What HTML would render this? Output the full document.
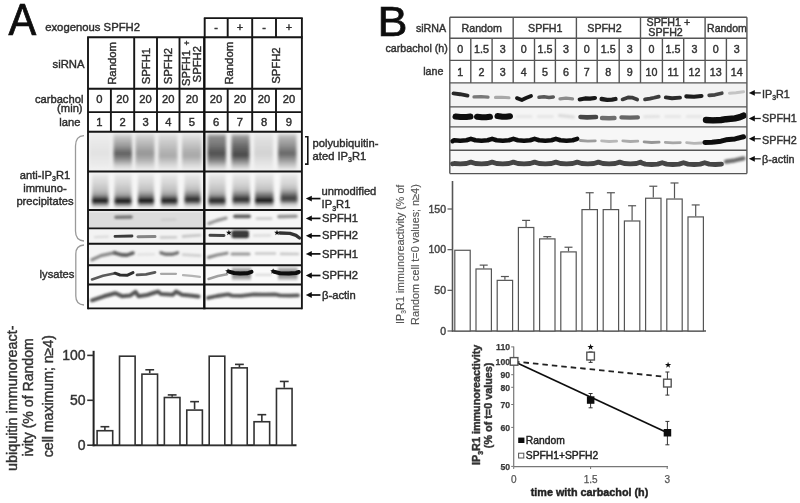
<!DOCTYPE html>
<html><head><meta charset="utf-8"><style>
html,body{margin:0;padding:0;background:#fff;}
svg{display:block;filter:grayscale(1);}
text{font-family:"Liberation Sans",sans-serif;}
</style></head><body>
<svg width="800" height="503" viewBox="0 0 800 503" font-family="Liberation Sans, sans-serif">
<defs>
<filter id="b1" filterUnits="userSpaceOnUse" x="0" y="0" width="800" height="503"><feGaussianBlur stdDeviation="1"/></filter>
<filter id="b2" filterUnits="userSpaceOnUse" x="0" y="0" width="800" height="503"><feGaussianBlur stdDeviation="2"/></filter>
<filter id="b3" filterUnits="userSpaceOnUse" x="0" y="0" width="800" height="503"><feGaussianBlur stdDeviation="3"/></filter>
<filter id="b15" filterUnits="userSpaceOnUse" x="0" y="0" width="800" height="503"><feGaussianBlur stdDeviation="1.5"/></filter>
<filter id="b07" filterUnits="userSpaceOnUse" x="0" y="0" width="800" height="503"><feGaussianBlur stdDeviation="0.7"/></filter>
<filter id="gall" filterUnits="userSpaceOnUse" x="0" y="0" width="800" height="503"><feGaussianBlur stdDeviation="0.6"/></filter>
</defs>
<rect width="800" height="503" fill="#fff"/>
<g filter="url(#gall)">
<clipPath id="cA00"><rect x="88" y="131.7" width="116.30000000000001" height="39.80000000000001"/></clipPath>
<clipPath id="cA01"><rect x="204.3" y="131.7" width="97.59999999999997" height="39.80000000000001"/></clipPath>
<clipPath id="cA10"><rect x="88" y="171.5" width="116.30000000000001" height="38.5"/></clipPath>
<clipPath id="cA11"><rect x="204.3" y="171.5" width="97.59999999999997" height="38.5"/></clipPath>
<clipPath id="cA20"><rect x="88" y="210.0" width="116.30000000000001" height="18.400000000000006"/></clipPath>
<clipPath id="cA21"><rect x="204.3" y="210.0" width="97.59999999999997" height="18.400000000000006"/></clipPath>
<clipPath id="cA30"><rect x="88" y="228.4" width="116.30000000000001" height="15.400000000000006"/></clipPath>
<clipPath id="cA31"><rect x="204.3" y="228.4" width="97.59999999999997" height="15.400000000000006"/></clipPath>
<clipPath id="cA40"><rect x="88" y="243.8" width="116.30000000000001" height="21.5"/></clipPath>
<clipPath id="cA41"><rect x="204.3" y="243.8" width="97.59999999999997" height="21.5"/></clipPath>
<clipPath id="cA50"><rect x="88" y="265.3" width="116.30000000000001" height="19.19999999999999"/></clipPath>
<clipPath id="cA51"><rect x="204.3" y="265.3" width="97.59999999999997" height="19.19999999999999"/></clipPath>
<clipPath id="cA60"><rect x="88" y="284.5" width="116.30000000000001" height="23.899999999999977"/></clipPath>
<clipPath id="cA61"><rect x="204.3" y="284.5" width="97.59999999999997" height="23.899999999999977"/></clipPath>
<g clip-path="url(#cA00)">
<rect x="88.0" y="131.7" width="117.0" height="39.8" fill="#f1f1f1"/>
<linearGradient id="g1" x1="0" y1="0" x2="0" y2="1"><stop offset="0" stop-color="#f2f2f2"/><stop offset="0.08" stop-color="#ececec"/><stop offset="0.55" stop-color="#e2e2e2"/><stop offset="0.85" stop-color="#ebebeb"/><stop offset="1" stop-color="#f2f2f2"/></linearGradient>
<rect x="89.5" y="132.7" width="21.0" height="37.8" rx="0" fill="url(#g1)" filter="url(#b15)"/>
<linearGradient id="g2" x1="0" y1="0" x2="0" y2="1"><stop offset="0" stop-color="#eee"/><stop offset="0.1" stop-color="#c8c8c8"/><stop offset="0.35" stop-color="#999"/><stop offset="0.55" stop-color="#5e5e5e"/><stop offset="0.7" stop-color="#8a8a8a"/><stop offset="0.88" stop-color="#d4d4d4"/><stop offset="1" stop-color="#eee"/></linearGradient>
<rect x="113.5" y="132.7" width="18.5" height="37.8" rx="0" fill="url(#g2)" filter="url(#b15)"/>
<linearGradient id="g3" x1="0" y1="0" x2="0" y2="1"><stop offset="0" stop-color="#eee"/><stop offset="0.1" stop-color="#d0d0d0"/><stop offset="0.35" stop-color="#b0b0b0"/><stop offset="0.55" stop-color="#959595"/><stop offset="0.72" stop-color="#b0b0b0"/><stop offset="0.9" stop-color="#dcdcdc"/><stop offset="1" stop-color="#eee"/></linearGradient>
<rect x="135.5" y="132.7" width="19.0" height="37.8" rx="0" fill="url(#g3)" filter="url(#b15)"/>
<linearGradient id="g4" x1="0" y1="0" x2="0" y2="1"><stop offset="0" stop-color="#eee"/><stop offset="0.1" stop-color="#d8d8d8"/><stop offset="0.5" stop-color="#b2b2b2"/><stop offset="0.62" stop-color="#aaa"/><stop offset="0.9" stop-color="#e0e0e0"/><stop offset="1" stop-color="#eee"/></linearGradient>
<rect x="158.5" y="132.7" width="19.0" height="37.8" rx="0" fill="url(#g4)" filter="url(#b15)"/>
<linearGradient id="g5" x1="0" y1="0" x2="0" y2="1"><stop offset="0" stop-color="#eee"/><stop offset="0.1" stop-color="#dcdcdc"/><stop offset="0.5" stop-color="#aeaeae"/><stop offset="0.62" stop-color="#a8a8a8"/><stop offset="0.9" stop-color="#e0e0e0"/><stop offset="1" stop-color="#eee"/></linearGradient>
<rect x="182.0" y="132.7" width="19.5" height="37.8" rx="0" fill="url(#g5)" filter="url(#b15)"/>
</g>
<g clip-path="url(#cA01)">
<rect x="204.3" y="131.7" width="98.0" height="39.8" fill="#f3f3f3"/>
<linearGradient id="g6" x1="0" y1="0" x2="0" y2="1"><stop offset="0" stop-color="#eee"/><stop offset="0.1" stop-color="#8c8c8c"/><stop offset="0.3" stop-color="#7a7a7a"/><stop offset="0.55" stop-color="#4f4f4f"/><stop offset="0.72" stop-color="#7a7a7a"/><stop offset="0.9" stop-color="#cfcfcf"/><stop offset="1" stop-color="#eee"/></linearGradient>
<rect x="207.5" y="132.7" width="18.5" height="37.8" rx="0" fill="url(#g6)" filter="url(#b15)"/>
<linearGradient id="g7" x1="0" y1="0" x2="0" y2="1"><stop offset="0" stop-color="#eee"/><stop offset="0.1" stop-color="#999"/><stop offset="0.35" stop-color="#6a6a6a"/><stop offset="0.6" stop-color="#484848"/><stop offset="0.75" stop-color="#888"/><stop offset="0.92" stop-color="#d4d4d4"/><stop offset="1" stop-color="#eee"/></linearGradient>
<rect x="231.5" y="132.7" width="18.0" height="37.8" rx="0" fill="url(#g7)" filter="url(#b15)"/>
<linearGradient id="g8" x1="0" y1="0" x2="0" y2="1"><stop offset="0" stop-color="#f0f0f0"/><stop offset="0.1" stop-color="#e2e2e2"/><stop offset="0.55" stop-color="#d2d2d2"/><stop offset="0.75" stop-color="#e0e0e0"/><stop offset="1" stop-color="#f0f0f0"/></linearGradient>
<rect x="254.0" y="132.7" width="19.0" height="37.8" rx="0" fill="url(#g8)" filter="url(#b15)"/>
<linearGradient id="g9" x1="0" y1="0" x2="0" y2="1"><stop offset="0" stop-color="#eee"/><stop offset="0.1" stop-color="#b8b8b8"/><stop offset="0.35" stop-color="#909090"/><stop offset="0.55" stop-color="#666"/><stop offset="0.72" stop-color="#999"/><stop offset="0.92" stop-color="#d8d8d8"/><stop offset="1" stop-color="#eee"/></linearGradient>
<rect x="278.0" y="132.7" width="18.5" height="37.8" rx="0" fill="url(#g9)" filter="url(#b15)"/>
</g>
<g clip-path="url(#cA10)">
<rect x="88.0" y="171.5" width="117.0" height="38.5" fill="#f6f6f6"/>
<linearGradient id="g10" x1="0" y1="0" x2="0" y2="1"><stop offset="0" stop-color="#f2f2f2"/><stop offset="0.06" stop-color="#e6e6e6"/><stop offset="0.3" stop-color="#d4d4d4"/><stop offset="0.5" stop-color="#bdbdbd"/><stop offset="0.62" stop-color="#9c9c9c"/><stop offset="0.7" stop-color="#5a5a5a"/><stop offset="0.75" stop-color="#1e1e1e"/><stop offset="0.8300000000000001" stop-color="#1e1e1e"/><stop offset="0.89" stop-color="#7a7a7a"/><stop offset="0.95" stop-color="#d0d0d0"/><stop offset="1" stop-color="#f0f0f0"/></linearGradient>
<rect x="92.0" y="173.5" width="16.5" height="34.5" rx="0" fill="url(#g10)" filter="url(#b15)"/>
<linearGradient id="g11" x1="0" y1="0" x2="0" y2="1"><stop offset="0" stop-color="#f2f2f2"/><stop offset="0.06" stop-color="#e6e6e6"/><stop offset="0.3" stop-color="#d4d4d4"/><stop offset="0.51" stop-color="#bdbdbd"/><stop offset="0.63" stop-color="#a0a0a0"/><stop offset="0.71" stop-color="#5a5a5a"/><stop offset="0.76" stop-color="#1a1a1a"/><stop offset="0.8400000000000001" stop-color="#1a1a1a"/><stop offset="0.9" stop-color="#7a7a7a"/><stop offset="0.96" stop-color="#d0d0d0"/><stop offset="1" stop-color="#f0f0f0"/></linearGradient>
<rect x="114.5" y="173.5" width="17.0" height="34.5" rx="0" fill="url(#g11)" filter="url(#b15)"/>
<linearGradient id="g12" x1="0" y1="0" x2="0" y2="1"><stop offset="0" stop-color="#f2f2f2"/><stop offset="0.06" stop-color="#e6e6e6"/><stop offset="0.3" stop-color="#d4d4d4"/><stop offset="0.5" stop-color="#bdbdbd"/><stop offset="0.62" stop-color="#8c8c8c"/><stop offset="0.7" stop-color="#5a5a5a"/><stop offset="0.75" stop-color="#141414"/><stop offset="0.8300000000000001" stop-color="#141414"/><stop offset="0.89" stop-color="#7a7a7a"/><stop offset="0.95" stop-color="#d0d0d0"/><stop offset="1" stop-color="#f0f0f0"/></linearGradient>
<rect x="138.0" y="173.5" width="16.0" height="34.5" rx="0" fill="url(#g12)" filter="url(#b15)"/>
<linearGradient id="g13" x1="0" y1="0" x2="0" y2="1"><stop offset="0" stop-color="#f2f2f2"/><stop offset="0.06" stop-color="#e6e6e6"/><stop offset="0.3" stop-color="#d4d4d4"/><stop offset="0.5" stop-color="#bdbdbd"/><stop offset="0.62" stop-color="#9c9c9c"/><stop offset="0.7" stop-color="#5a5a5a"/><stop offset="0.75" stop-color="#222"/><stop offset="0.8300000000000001" stop-color="#222"/><stop offset="0.89" stop-color="#7a7a7a"/><stop offset="0.95" stop-color="#d0d0d0"/><stop offset="1" stop-color="#f0f0f0"/></linearGradient>
<rect x="161.0" y="173.5" width="16.5" height="34.5" rx="0" fill="url(#g13)" filter="url(#b15)"/>
<linearGradient id="g14" x1="0" y1="0" x2="0" y2="1"><stop offset="0" stop-color="#f2f2f2"/><stop offset="0.06" stop-color="#e6e6e6"/><stop offset="0.3" stop-color="#d4d4d4"/><stop offset="0.47" stop-color="#bdbdbd"/><stop offset="0.59" stop-color="#8a8a8a"/><stop offset="0.6699999999999999" stop-color="#5a5a5a"/><stop offset="0.72" stop-color="#2e2e2e"/><stop offset="0.8" stop-color="#2e2e2e"/><stop offset="0.86" stop-color="#7a7a7a"/><stop offset="0.9199999999999999" stop-color="#d0d0d0"/><stop offset="1" stop-color="#f0f0f0"/></linearGradient>
<rect x="184.5" y="173.5" width="16.0" height="34.5" rx="0" fill="url(#g14)" filter="url(#b15)"/>
</g>
<g clip-path="url(#cA11)">
<rect x="204.3" y="171.5" width="98.0" height="38.5" fill="#f8f8f8"/>
<linearGradient id="g15" x1="0" y1="0" x2="0" y2="1"><stop offset="0" stop-color="#f2f2f2"/><stop offset="0.06" stop-color="#e6e6e6"/><stop offset="0.3" stop-color="#d4d4d4"/><stop offset="0.5" stop-color="#bdbdbd"/><stop offset="0.62" stop-color="#a0a0a0"/><stop offset="0.7" stop-color="#5a5a5a"/><stop offset="0.75" stop-color="#2a2a2a"/><stop offset="0.8300000000000001" stop-color="#2a2a2a"/><stop offset="0.89" stop-color="#7a7a7a"/><stop offset="0.95" stop-color="#d0d0d0"/><stop offset="1" stop-color="#f0f0f0"/></linearGradient>
<rect x="208.5" y="173.5" width="17.0" height="34.5" rx="0" fill="url(#g15)" filter="url(#b15)"/>
<linearGradient id="g16" x1="0" y1="0" x2="0" y2="1"><stop offset="0" stop-color="#f2f2f2"/><stop offset="0.06" stop-color="#e6e6e6"/><stop offset="0.3" stop-color="#d4d4d4"/><stop offset="0.47" stop-color="#bdbdbd"/><stop offset="0.59" stop-color="#8a8a8a"/><stop offset="0.6699999999999999" stop-color="#5a5a5a"/><stop offset="0.72" stop-color="#333"/><stop offset="0.8" stop-color="#333"/><stop offset="0.86" stop-color="#7a7a7a"/><stop offset="0.9199999999999999" stop-color="#d0d0d0"/><stop offset="1" stop-color="#f0f0f0"/></linearGradient>
<rect x="232.5" y="173.5" width="17.5" height="34.5" rx="0" fill="url(#g16)" filter="url(#b15)"/>
<linearGradient id="g17" x1="0" y1="0" x2="0" y2="1"><stop offset="0" stop-color="#f2f2f2"/><stop offset="0.06" stop-color="#e6e6e6"/><stop offset="0.3" stop-color="#d4d4d4"/><stop offset="0.49" stop-color="#bdbdbd"/><stop offset="0.61" stop-color="#7a7a7a"/><stop offset="0.69" stop-color="#5a5a5a"/><stop offset="0.74" stop-color="#161616"/><stop offset="0.8200000000000001" stop-color="#161616"/><stop offset="0.88" stop-color="#7a7a7a"/><stop offset="0.94" stop-color="#d0d0d0"/><stop offset="1" stop-color="#f0f0f0"/></linearGradient>
<rect x="255.0" y="173.5" width="18.5" height="34.5" rx="0" fill="url(#g17)" filter="url(#b15)"/>
<linearGradient id="g18" x1="0" y1="0" x2="0" y2="1"><stop offset="0" stop-color="#f2f2f2"/><stop offset="0.06" stop-color="#e6e6e6"/><stop offset="0.3" stop-color="#d4d4d4"/><stop offset="0.43999999999999995" stop-color="#bdbdbd"/><stop offset="0.5599999999999999" stop-color="#8a8a8a"/><stop offset="0.6399999999999999" stop-color="#5a5a5a"/><stop offset="0.69" stop-color="#444"/><stop offset="0.77" stop-color="#444"/><stop offset="0.83" stop-color="#7a7a7a"/><stop offset="0.8899999999999999" stop-color="#d0d0d0"/><stop offset="1" stop-color="#f0f0f0"/></linearGradient>
<rect x="280.5" y="173.5" width="17.0" height="34.5" rx="0" fill="url(#g18)" filter="url(#b15)"/>
</g>
<g clip-path="url(#cA20)">
<rect x="88.0" y="210.0" width="117.0" height="18.4" fill="#dcdcdc"/>
<rect x="88.0" y="210.0" width="117.0" height="2.5" fill="#e8e8e8"/>
<path d="M116.0,217.3 L131.0,217.0" fill="none" stroke="#777" stroke-width="3.6" stroke-linecap="round" stroke-linejoin="round" opacity="1.0" filter="url(#b1)"/>
<path d="M162.0,219.7 L175.0,219.5" fill="none" stroke="#cfcfcf" stroke-width="3" stroke-linecap="round" stroke-linejoin="round" opacity="1.0" filter="url(#b1)"/>
</g>
<g clip-path="url(#cA21)">
<rect x="204.3" y="210.0" width="98.0" height="18.4" fill="#f6f6f6"/>
<path d="M209.0,223.5 L217.0,220.5 L226.0,218.2" fill="none" stroke="#9a9a9a" stroke-width="3.4" stroke-linecap="round" stroke-linejoin="round" opacity="1.0" filter="url(#b1)"/>
<path d="M235.0,216.3 L249.0,216.3" fill="none" stroke="#606060" stroke-width="3.8" stroke-linecap="round" stroke-linejoin="round" opacity="1.0" filter="url(#b1)"/>
<path d="M257.0,218.6 L271.0,218.4" fill="none" stroke="#cfcfcf" stroke-width="3" stroke-linecap="round" stroke-linejoin="round" opacity="1.0" filter="url(#b1)"/>
<path d="M279.0,216.6 L296.0,216.2" fill="none" stroke="#959595" stroke-width="3.6" stroke-linecap="round" stroke-linejoin="round" opacity="1.0" filter="url(#b1)"/>
</g>
<g clip-path="url(#cA30)">
<rect x="88.0" y="228.4" width="117.0" height="15.4" fill="#f3f3f3"/>
<path d="M95.0,237.2 L108.0,236.6" fill="none" stroke="#dadada" stroke-width="2.2" stroke-linecap="round" stroke-linejoin="round" opacity="1.0" filter="url(#b1)"/>
<path d="M115.0,236.4 L132.0,236.0" fill="none" stroke="#3a3a3a" stroke-width="2.8" stroke-linecap="round" stroke-linejoin="round" opacity="1.0" filter="url(#b07)"/>
<path d="M138.0,236.8 L155.0,236.5" fill="none" stroke="#858585" stroke-width="3.0" stroke-linecap="round" stroke-linejoin="round" opacity="1.0" filter="url(#b07)"/>
<path d="M161.0,237.4 L176.0,237.2" fill="none" stroke="#cbcbcb" stroke-width="2.6" stroke-linecap="round" stroke-linejoin="round" opacity="1.0" filter="url(#b1)"/>
<path d="M183.0,236.4 L200.0,235.2" fill="none" stroke="#c4c4c4" stroke-width="2.6" stroke-linecap="round" stroke-linejoin="round" opacity="1.0" filter="url(#b1)"/>
</g>
<g clip-path="url(#cA31)">
<rect x="204.3" y="228.4" width="98.0" height="15.4" fill="#f6f6f6"/>
<path d="M210.0,235.3 L224.0,235.4" fill="none" stroke="#444" stroke-width="3.0" stroke-linecap="round" stroke-linejoin="round" opacity="1.0" filter="url(#b07)"/>
<linearGradient id="g19" x1="0" y1="0" x2="0" y2="1"><stop offset="0" stop-color="#555"/><stop offset="0.2" stop-color="#2a2a2a"/><stop offset="0.5" stop-color="#444"/><stop offset="0.8" stop-color="#2a2a2a"/><stop offset="1" stop-color="#555"/></linearGradient>
<rect x="231.5" y="230.3" width="17.5" height="8.0" rx="2.5" fill="url(#g19)" filter="url(#b1)"/>
<path d="M254.0,235.6 L270.0,235.4" fill="none" stroke="#dedede" stroke-width="2.6" stroke-linecap="round" stroke-linejoin="round" opacity="1.0" filter="url(#b1)"/>
<path d="M280.0,233.0 L290.0,233.4 L296.0,235.3 L299.5,238.0" fill="none" stroke="#333" stroke-width="3.4" stroke-linecap="round" stroke-linejoin="round" opacity="1.0" filter="url(#b07)"/>
<polygon points="228.90,229.80 229.63,231.79 231.75,231.87 230.09,233.19 230.66,235.23 228.90,234.05 227.14,235.23 227.71,233.19 226.05,231.87 228.17,231.79" fill="#111"/>
<polygon points="277.00,229.80 277.73,231.79 279.85,231.87 278.19,233.19 278.76,235.23 277.00,234.05 275.24,235.23 275.81,233.19 274.15,231.87 276.27,231.79" fill="#111"/>
</g>
<g clip-path="url(#cA40)">
<rect x="88.0" y="243.8" width="117.0" height="21.5" fill="#f4f4f4"/>
<path d="M92.0,259.8 L101.0,255.6 L114.0,252.9" fill="none" stroke="#8a8a8a" stroke-width="3.2" stroke-linecap="round" stroke-linejoin="round" opacity="1.0" filter="url(#b1)"/>
<path d="M115.0,252.9 L122.0,254.9 L127.0,255.1 L133.0,253.0" fill="none" stroke="#5f5f5f" stroke-width="3.6" stroke-linecap="round" stroke-linejoin="round" opacity="1.0" filter="url(#b1)"/>
<path d="M138.0,254.5 L154.0,254.2" fill="none" stroke="#e2e2e2" stroke-width="2.4" stroke-linecap="round" stroke-linejoin="round" opacity="1.0" filter="url(#b1)"/>
<path d="M161.0,252.8 L166.0,254.3 L172.0,254.3 L177.5,252.8" fill="none" stroke="#727272" stroke-width="3.4" stroke-linecap="round" stroke-linejoin="round" opacity="1.0" filter="url(#b1)"/>
<path d="M183.0,254.6 L200.0,255.6" fill="none" stroke="#cfcfcf" stroke-width="2.6" stroke-linecap="round" stroke-linejoin="round" opacity="1.0" filter="url(#b1)"/>
</g>
<g clip-path="url(#cA41)">
<rect x="204.3" y="243.8" width="98.0" height="21.5" fill="#f8f8f8"/>
<path d="M208.5,257.4 L217.0,255.0 L227.0,253.2" fill="none" stroke="#8c8c8c" stroke-width="3.2" stroke-linecap="round" stroke-linejoin="round" opacity="1.0" filter="url(#b1)"/>
<path d="M232.0,253.9 L249.0,253.9" fill="none" stroke="#999" stroke-width="3.0" stroke-linecap="round" stroke-linejoin="round" opacity="1.0" filter="url(#b1)"/>
<path d="M256.0,253.5 L275.0,253.5" fill="none" stroke="#c8c8c8" stroke-width="2.6" stroke-linecap="round" stroke-linejoin="round" opacity="1.0" filter="url(#b1)"/>
<path d="M281.0,253.9 L298.0,254.0" fill="none" stroke="#c8c8c8" stroke-width="2.6" stroke-linecap="round" stroke-linejoin="round" opacity="1.0" filter="url(#b1)"/>
</g>
<g clip-path="url(#cA50)">
<rect x="88.0" y="265.3" width="117.0" height="19.2" fill="#fafafa"/>
<path d="M92.0,279.4 L103.0,275.8 L114.0,273.4" fill="none" stroke="#5a5a5a" stroke-width="2.6" stroke-linecap="round" stroke-linejoin="round" opacity="1.0" filter="url(#b07)"/>
<path d="M115.0,273.2 L120.0,275.0 L127.0,275.3 L133.0,272.6" fill="none" stroke="#2f2f2f" stroke-width="3.0" stroke-linecap="round" stroke-linejoin="round" opacity="1.0" filter="url(#b07)"/>
<path d="M137.0,274.8 L146.0,274.3 L155.0,272.4" fill="none" stroke="#585858" stroke-width="2.8" stroke-linecap="round" stroke-linejoin="round" opacity="1.0" filter="url(#b07)"/>
<path d="M161.0,273.8 L176.0,273.8" fill="none" stroke="#a8a8a8" stroke-width="2.2" stroke-linecap="round" stroke-linejoin="round" opacity="1.0" filter="url(#b07)"/>
<path d="M183.0,275.2 L192.0,275.8 L200.0,276.8" fill="none" stroke="#b4b4b4" stroke-width="2.2" stroke-linecap="round" stroke-linejoin="round" opacity="1.0" filter="url(#b07)"/>
</g>
<g clip-path="url(#cA51)">
<rect x="204.3" y="265.3" width="98.0" height="19.2" fill="#fafafa"/>
<path d="M208.5,279.0 L218.0,276.0 L227.0,274.2" fill="none" stroke="#a0a0a0" stroke-width="2.4" stroke-linecap="round" stroke-linejoin="round" opacity="1.0" filter="url(#b07)"/>
<linearGradient id="g20" x1="0" y1="0" x2="0" y2="1"><stop offset="0" stop-color="#f4f4f4"/><stop offset="0.12" stop-color="#b4b4b4"/><stop offset="0.3" stop-color="#a0a0a0"/><stop offset="0.45" stop-color="#777"/><stop offset="0.6" stop-color="#999"/><stop offset="0.75" stop-color="#9a9a9a"/><stop offset="0.88" stop-color="#c8c8c8"/><stop offset="1" stop-color="#f4f4f4"/></linearGradient>
<rect x="232.0" y="266.5" width="19.0" height="14.5" rx="0" fill="url(#g20)" filter="url(#b1)"/>
<path d="M229.0,271.6 L234.0,273.0 L240.0,273.6 L247.0,273.3 L251.5,271.9" fill="none" stroke="#0a0a0a" stroke-width="4.0" stroke-linecap="round" stroke-linejoin="round" opacity="1.0" filter="url(#b07)"/>
<linearGradient id="g21" x1="0" y1="0" x2="0" y2="1"><stop offset="0" stop-color="#f4f4f4"/><stop offset="0.12" stop-color="#b4b4b4"/><stop offset="0.3" stop-color="#a0a0a0"/><stop offset="0.45" stop-color="#777"/><stop offset="0.6" stop-color="#999"/><stop offset="0.75" stop-color="#9a9a9a"/><stop offset="0.88" stop-color="#c8c8c8"/><stop offset="1" stop-color="#f4f4f4"/></linearGradient>
<rect x="278.0" y="266.5" width="19.5" height="14.5" rx="0" fill="url(#g21)" filter="url(#b1)"/>
<path d="M273.5,271.6 L280.0,273.2 L289.0,273.6 L296.0,273.0 L298.8,272.0" fill="none" stroke="#0a0a0a" stroke-width="4.0" stroke-linecap="round" stroke-linejoin="round" opacity="1.0" filter="url(#b07)"/>
<path d="M256.0,274.8 L271.0,274.8" fill="none" stroke="#dcdcdc" stroke-width="2.2" stroke-linecap="round" stroke-linejoin="round" opacity="1.0" filter="url(#b1)"/>
<polygon points="228.00,268.30 228.73,270.29 230.85,270.37 229.19,271.69 229.76,273.73 228.00,272.55 226.24,273.73 226.81,271.69 225.15,270.37 227.27,270.29" fill="#111"/>
<polygon points="273.10,268.30 273.83,270.29 275.95,270.37 274.29,271.69 274.86,273.73 273.10,272.55 271.34,273.73 271.91,271.69 270.25,270.37 272.37,270.29" fill="#111"/>
</g>
<g clip-path="url(#cA60)">
<rect x="88.0" y="284.5" width="117.0" height="23.9" fill="#fafafa"/>
<path d="M92.0,300.3 L104.0,296.3 L115.2,293.2 L122.0,296.2 L130.0,295.6 L135.5,291.8 L138.5,296.2 L147.0,295.0 L155.0,292.5 L158.0,291.6 L161.0,294.0 L173.0,294.7 L176.0,291.6 L182.0,294.7 L190.0,295.5 L198.5,296.6" fill="none" stroke="#575757" stroke-width="4.0" stroke-linecap="round" stroke-linejoin="round" opacity="1.0" filter="url(#b1)"/>
</g>
<g clip-path="url(#cA61)">
<rect x="204.3" y="284.5" width="98.0" height="23.9" fill="#fafafa"/>
<path d="M208.0,297.8 L217.0,296.0 L228.0,294.4 L232.0,295.6 L241.0,295.8 L250.0,294.8 L254.0,294.3 L264.0,294.6 L275.0,294.3 L280.0,295.3 L290.0,295.6 L298.0,295.3" fill="none" stroke="#595959" stroke-width="3.8" stroke-linecap="round" stroke-linejoin="round" opacity="1.0" filter="url(#b1)"/>
</g>
<clipPath id="cB0"><rect x="449.8" y="82.9" width="297.1" height="24.0"/></clipPath>
<clipPath id="cB1"><rect x="449.8" y="106.9" width="297.1" height="20.0"/></clipPath>
<clipPath id="cB2"><rect x="449.8" y="126.9" width="297.1" height="23.400000000000006"/></clipPath>
<clipPath id="cB3"><rect x="449.8" y="150.3" width="297.1" height="23.299999999999983"/></clipPath>
<g clip-path="url(#cB0)">
<rect x="449.6" y="82.9" width="297.6" height="24.0" fill="#f3f3f3"/>
<path d="M453.5,93.4 L460.0,94.2 L467.5,95.6" fill="none" stroke="#262626" stroke-width="3.9" stroke-linecap="round" stroke-linejoin="round" opacity="1.0" filter="url(#b07)"/>
<path d="M474.0,96.9 L481.0,96.6 L488.0,97.2" fill="none" stroke="#787878" stroke-width="3.3" stroke-linecap="round" stroke-linejoin="round" opacity="1.0" filter="url(#b07)"/>
<path d="M495.5,97.4 L502.0,97.3 L509.0,97.8" fill="none" stroke="#a8a8a8" stroke-width="3.1" stroke-linecap="round" stroke-linejoin="round" opacity="1.0" filter="url(#b07)"/>
<path d="M517.0,98.2 L521.8,100.0 L526.0,98.0 L531.0,96.0" fill="none" stroke="#161616" stroke-width="3.9" stroke-linecap="round" stroke-linejoin="round" opacity="1.0" filter="url(#b07)"/>
<path d="M539.0,97.3 L544.0,96.8 L549.0,97.6 L553.3,97.0" fill="none" stroke="#585858" stroke-width="3.5" stroke-linecap="round" stroke-linejoin="round" opacity="1.0" filter="url(#b07)"/>
<path d="M560.0,98.8 L566.0,98.2 L572.5,98.8" fill="none" stroke="#8c8c8c" stroke-width="3.3" stroke-linecap="round" stroke-linejoin="round" opacity="1.0" filter="url(#b07)"/>
<path d="M579.7,99.4 L585.0,98.4 L590.0,98.6 L595.0,98.0" fill="none" stroke="#141414" stroke-width="4.1" stroke-linecap="round" stroke-linejoin="round" opacity="1.0" filter="url(#b07)"/>
<path d="M601.6,99.0 L607.0,99.8 L612.0,99.6 L615.5,99.0" fill="none" stroke="#1a1a1a" stroke-width="4.3" stroke-linecap="round" stroke-linejoin="round" opacity="1.0" filter="url(#b07)"/>
<path d="M622.5,99.4 L628.0,97.4 L632.0,97.6 L637.2,99.6" fill="none" stroke="#3a3a3a" stroke-width="3.7" stroke-linecap="round" stroke-linejoin="round" opacity="1.0" filter="url(#b07)"/>
<path d="M645.0,99.4 L650.0,98.6 L654.0,97.8 L658.8,96.6" fill="none" stroke="#3c3c3c" stroke-width="3.7" stroke-linecap="round" stroke-linejoin="round" opacity="1.0" filter="url(#b07)"/>
<path d="M665.8,97.4 L672.0,98.2 L680.0,97.6" fill="none" stroke="#2a2a2a" stroke-width="3.9" stroke-linecap="round" stroke-linejoin="round" opacity="1.0" filter="url(#b07)"/>
<path d="M686.3,96.4 L694.0,96.8 L701.5,96.0" fill="none" stroke="#1c1c1c" stroke-width="4.1" stroke-linecap="round" stroke-linejoin="round" opacity="1.0" filter="url(#b07)"/>
<path d="M709.2,95.4 L715.0,94.8 L721.8,93.2" fill="none" stroke="#444" stroke-width="3.7" stroke-linecap="round" stroke-linejoin="round" opacity="1.0" filter="url(#b07)"/>
<path d="M729.5,93.2 L736.0,92.8 L743.5,91.8" fill="none" stroke="#c4c4c4" stroke-width="3.1" stroke-linecap="round" stroke-linejoin="round" opacity="1.0" filter="url(#b07)"/>
</g>
<g clip-path="url(#cB1)">
<rect x="449.6" y="106.9" width="297.6" height="20.0" fill="#f5f5f5"/>
<path d="M455.5,116.5 L460.5,117.1 L466.5,117.1 L470.5,116.6" fill="none" stroke="#0a0a0a" stroke-width="6.0" stroke-linecap="round" stroke-linejoin="round" opacity="1.0" filter="url(#b07)"/>
<path d="M477.0,116.7 L482.0,117.3 L486.0,117.3 L490.0,116.8" fill="none" stroke="#0a0a0a" stroke-width="6.0" stroke-linecap="round" stroke-linejoin="round" opacity="1.0" filter="url(#b07)"/>
<path d="M497.5,116.1 L502.5,116.7 L506.0,116.7 L510.0,116.2" fill="none" stroke="#0a0a0a" stroke-width="6.0" stroke-linecap="round" stroke-linejoin="round" opacity="1.0" filter="url(#b07)"/>
<path d="M517.0,116.5 L531.0,116.5" fill="none" stroke="#e6e6e6" stroke-width="3" stroke-linecap="round" stroke-linejoin="round" opacity="1.0" filter="url(#b1)"/>
<path d="M538.3,116.5 L552.3,116.5" fill="none" stroke="#e6e6e6" stroke-width="3" stroke-linecap="round" stroke-linejoin="round" opacity="1.0" filter="url(#b1)"/>
<path d="M665.8,116.5 L679.8,116.5" fill="none" stroke="#e6e6e6" stroke-width="3" stroke-linecap="round" stroke-linejoin="round" opacity="1.0" filter="url(#b1)"/>
<path d="M687.1,116.5 L701.1,116.5" fill="none" stroke="#e6e6e6" stroke-width="3" stroke-linecap="round" stroke-linejoin="round" opacity="1.0" filter="url(#b1)"/>
<path d="M559.5,115.6 L573.5,117.0" fill="none" stroke="#dadada" stroke-width="3" stroke-linecap="round" stroke-linejoin="round" opacity="1.0" filter="url(#b1)"/>
<path d="M644.6,116.8 L658.6,116.6" fill="none" stroke="#e2e2e2" stroke-width="3" stroke-linecap="round" stroke-linejoin="round" opacity="1.0" filter="url(#b1)"/>
<path d="M580.5,117.0 L587.0,117.4 L596.0,117.0" fill="none" stroke="#444" stroke-width="4.6" stroke-linecap="round" stroke-linejoin="round" opacity="1.0" filter="url(#b07)"/>
<path d="M602.0,118.0 L609.0,118.2 L614.5,118.0" fill="none" stroke="#6e6e6e" stroke-width="4.4" stroke-linecap="round" stroke-linejoin="round" opacity="1.0" filter="url(#b07)"/>
<path d="M621.5,117.4 L630.0,117.6 L637.8,117.4" fill="none" stroke="#666" stroke-width="4.4" stroke-linecap="round" stroke-linejoin="round" opacity="1.0" filter="url(#b07)"/>
<path d="M706.0,120.0 L713.0,120.4 L721.0,120.0 L726.0,119.2 L735.0,118.4 L740.0,117.2 L743.5,115.6" fill="none" stroke="#080808" stroke-width="6.4" stroke-linecap="round" stroke-linejoin="round" opacity="1.0" filter="url(#b07)"/>
</g>
<g clip-path="url(#cB2)">
<rect x="449.6" y="126.9" width="297.6" height="23.4" fill="#f7f7f7"/>
<path d="M452.5,141.2 L454.1,140.3 L460.2,140.7 L466.4,140.3 L470.9,138.9 L470.9,138.9 L475.4,140.3 L481.5,140.7 L487.6,140.3 L492.1,138.9 L492.1,138.9 L496.6,140.3 L502.8,140.7 L508.9,140.3 L513.4,138.9 L513.4,138.9 L517.9,140.3 L524.0,140.7 L530.1,140.3 L534.6,138.9 L534.6,138.9 L539.1,140.3 L545.3,140.7 L551.4,140.3 L555.9,138.9 L555.9,138.9 L560.4,140.3 L566.5,140.7 L572.7,140.3 L577.2,138.9" fill="none" stroke="#0e0e0e" stroke-width="4.6" stroke-linecap="round" stroke-linejoin="round" opacity="1.0" filter="url(#b07)"/>
<path d="M580.3,140.5 L587.8,141.1 L595.3,140.8" fill="none" stroke="#9c9c9c" stroke-width="2.8" stroke-linecap="round" stroke-linejoin="round" opacity="1.0" filter="url(#b07)"/>
<path d="M601.6,140.9 L609.1,141.5 L616.6,141.2" fill="none" stroke="#b8b8b8" stroke-width="2.8" stroke-linecap="round" stroke-linejoin="round" opacity="1.0" filter="url(#b07)"/>
<path d="M622.8,140.9 L630.3,141.5 L637.8,141.2" fill="none" stroke="#aaaaaa" stroke-width="2.8" stroke-linecap="round" stroke-linejoin="round" opacity="1.0" filter="url(#b07)"/>
<path d="M644.1,141.9 L651.6,142.5 L659.1,142.2" fill="none" stroke="#959595" stroke-width="2.8" stroke-linecap="round" stroke-linejoin="round" opacity="1.0" filter="url(#b07)"/>
<path d="M665.3,142.3 L672.8,142.9 L680.3,142.6" fill="none" stroke="#a6a6a6" stroke-width="2.8" stroke-linecap="round" stroke-linejoin="round" opacity="1.0" filter="url(#b07)"/>
<path d="M686.6,142.7 L694.1,143.3 L701.6,143.0" fill="none" stroke="#b6b6b6" stroke-width="2.8" stroke-linecap="round" stroke-linejoin="round" opacity="1.0" filter="url(#b07)"/>
<path d="M705.0,142.4 L712.0,142.2 L721.0,141.2 L726.0,139.8 L735.0,138.9 L743.5,136.8" fill="none" stroke="#0c0c0c" stroke-width="5" stroke-linecap="round" stroke-linejoin="round" opacity="1.0" filter="url(#b07)"/>
</g>
<g clip-path="url(#cB3)">
<rect x="449.6" y="150.3" width="297.6" height="23.3" fill="#f8f8f8"/>
<path d="M452.5,163.8 L454.1,163.5 L460.2,163.9 L466.4,163.5 L470.9,162.1 L470.9,162.1 L475.4,163.5 L481.5,163.9 L487.6,163.5 L492.1,162.1 L492.1,162.1 L496.6,163.5 L502.8,163.9 L508.9,163.5 L513.4,162.1 L513.4,162.1 L517.9,163.5 L524.0,163.9 L530.1,163.5 L534.6,162.1 L534.6,162.1 L539.1,163.5 L545.3,163.9 L551.4,163.5 L555.9,162.1 L555.9,162.1 L560.4,163.5 L566.5,163.9 L572.7,163.5 L577.2,162.1 L577.2,162.1 L581.7,163.5 L587.8,163.9 L593.9,163.5 L598.4,162.1 L598.4,162.1 L602.9,163.5 L609.1,163.9 L615.2,163.5 L619.7,162.1 L619.7,162.1 L624.2,163.5 L630.3,163.9 L636.4,163.5 L640.9,162.1 L640.9,162.7 L645.4,164.1 L651.6,164.5 L657.7,164.1 L662.2,162.7 L662.2,162.7 L666.7,164.1 L672.8,164.5 L679.0,164.1 L683.5,162.7 L683.5,162.7 L688.0,164.1 L694.1,164.5 L700.2,164.1 L704.7,162.7 L704.7,162.7 L709.2,164.1 L715.4,164.5 L721.5,164.1" fill="none" stroke="#444444" stroke-width="4.8" stroke-linecap="round" stroke-linejoin="round" opacity="1.0" filter="url(#b07)"/>
<path d="M726.0,161.6 L735.0,160.3 L743.5,158.4" fill="none" stroke="#6a6a6a" stroke-width="4.2" stroke-linecap="round" stroke-linejoin="round" opacity="1.0" filter="url(#b1)"/>
</g>
<text transform="translate(8.5,34.5) scale(1.0,1.055)" font-size="41.6" fill="#111" stroke="#111" stroke-width="0.7">A</text>
<text x="45.20" y="30.60" font-size="11.3" text-anchor="start" fill="#2e2e2e" stroke="#2e2e2e" stroke-width="0.42" >exogenous SPFH2</text>
<line x1="203.85" y1="18.10" x2="302.75" y2="18.10" stroke="#151515" stroke-width="1.9" />
<line x1="204.70" y1="18.10" x2="204.70" y2="37.20" stroke="#151515" stroke-width="1.9" />
<line x1="227.70" y1="18.10" x2="227.70" y2="37.20" stroke="#151515" stroke-width="1.9" />
<line x1="252.20" y1="18.10" x2="252.20" y2="37.20" stroke="#151515" stroke-width="1.9" />
<line x1="276.00" y1="18.10" x2="276.00" y2="37.20" stroke="#151515" stroke-width="1.9" />
<line x1="301.90" y1="18.10" x2="301.90" y2="37.20" stroke="#151515" stroke-width="1.9" />
<text x="216.20" y="30.60" font-size="11" text-anchor="middle" fill="#2e2e2e" stroke="#2e2e2e" stroke-width="0.42" >-</text>
<text x="239.95" y="30.60" font-size="11" text-anchor="middle" fill="#2e2e2e" stroke="#2e2e2e" stroke-width="0.42" >+</text>
<text x="264.10" y="30.60" font-size="11" text-anchor="middle" fill="#2e2e2e" stroke="#2e2e2e" stroke-width="0.42" >-</text>
<text x="288.95" y="30.60" font-size="11" text-anchor="middle" fill="#2e2e2e" stroke="#2e2e2e" stroke-width="0.42" >+</text>
<line x1="87.15" y1="37.20" x2="302.75" y2="37.20" stroke="#151515" stroke-width="1.9" />
<line x1="88.00" y1="37.20" x2="88.00" y2="309.30" stroke="#151515" stroke-width="1.9" />
<line x1="301.90" y1="37.20" x2="301.90" y2="309.30" stroke="#151515" stroke-width="1.9" />
<line x1="204.30" y1="37.20" x2="204.30" y2="309.30" stroke="#0a0a0a" stroke-width="2.4" />
<line x1="88.00" y1="88.80" x2="301.90" y2="88.80" stroke="#151515" stroke-width="1.9" />
<line x1="88.00" y1="112.10" x2="301.90" y2="112.10" stroke="#151515" stroke-width="1.9" />
<line x1="88.00" y1="131.70" x2="301.90" y2="131.70" stroke="#151515" stroke-width="1.9" />
<line x1="134.20" y1="37.20" x2="134.20" y2="131.70" stroke="#151515" stroke-width="1.9" />
<line x1="157.00" y1="37.20" x2="157.00" y2="131.70" stroke="#151515" stroke-width="1.9" />
<line x1="179.50" y1="37.20" x2="179.50" y2="131.70" stroke="#151515" stroke-width="1.9" />
<line x1="252.20" y1="37.20" x2="252.20" y2="131.70" stroke="#151515" stroke-width="1.9" />
<line x1="110.90" y1="88.80" x2="110.90" y2="131.70" stroke="#151515" stroke-width="1.9" />
<line x1="227.70" y1="88.80" x2="227.70" y2="131.70" stroke="#151515" stroke-width="1.9" />
<line x1="276.00" y1="88.80" x2="276.00" y2="131.70" stroke="#151515" stroke-width="1.9" />
<text x="84.50" y="67.80" font-size="11.3" text-anchor="end" fill="#2e2e2e" stroke="#2e2e2e" stroke-width="0.42" >siRNA</text>
<text x="83.40" y="103.20" font-size="11.2" text-anchor="end" fill="#2e2e2e" stroke="#2e2e2e" stroke-width="0.42" >carbachol</text>
<text x="82.60" y="112.40" font-size="11.2" text-anchor="end" fill="#2e2e2e" stroke="#2e2e2e" stroke-width="0.42" >(min)</text>
<text x="80.40" y="125.80" font-size="11.2" text-anchor="end" fill="#2e2e2e" stroke="#2e2e2e" stroke-width="0.42" >lane</text>
<text transform="translate(116.00,84.80) rotate(-90)" font-size="11.3" text-anchor="start" fill="#2e2e2e" stroke="#2e2e2e" stroke-width="0.42" >Random</text>
<text transform="translate(149.60,84.30) rotate(-90)" font-size="11.3" text-anchor="start" fill="#2e2e2e" stroke="#2e2e2e" stroke-width="0.42" >SPFH1</text>
<text transform="translate(172.30,84.30) rotate(-90)" font-size="11.3" text-anchor="start" fill="#2e2e2e" stroke="#2e2e2e" stroke-width="0.42" >SPFH2</text>
<text transform="translate(190.00,85.90) rotate(-90)" font-size="11.1" text-anchor="start" fill="#2e2e2e" stroke="#2e2e2e" stroke-width="0.42" >SPFH1</text>
<text transform="translate(190.20,43.00) rotate(-90)" font-size="8.6" text-anchor="middle" fill="#2e2e2e" stroke="#2e2e2e" stroke-width="0.42" >+</text>
<text transform="translate(201.00,64.20) rotate(-90)" font-size="11.3" text-anchor="middle" fill="#2e2e2e" stroke="#2e2e2e" stroke-width="0.42" >SPFH2</text>
<text transform="translate(232.80,84.60) rotate(-90)" font-size="11.3" text-anchor="start" fill="#2e2e2e" stroke="#2e2e2e" stroke-width="0.42" >Random</text>
<text transform="translate(279.60,83.80) rotate(-90)" font-size="11.3" text-anchor="start" fill="#2e2e2e" stroke="#2e2e2e" stroke-width="0.42" >SPFH2</text>
<text x="99.45" y="103.20" font-size="11.2" text-anchor="middle" fill="#2e2e2e" stroke="#2e2e2e" stroke-width="0.42" >0</text>
<text x="99.45" y="125.80" font-size="11.2" text-anchor="middle" fill="#2e2e2e" stroke="#2e2e2e" stroke-width="0.42" >1</text>
<text x="122.55" y="103.20" font-size="11.2" text-anchor="middle" fill="#2e2e2e" stroke="#2e2e2e" stroke-width="0.42" >20</text>
<text x="122.55" y="125.80" font-size="11.2" text-anchor="middle" fill="#2e2e2e" stroke="#2e2e2e" stroke-width="0.42" >2</text>
<text x="145.60" y="103.20" font-size="11.2" text-anchor="middle" fill="#2e2e2e" stroke="#2e2e2e" stroke-width="0.42" >20</text>
<text x="145.60" y="125.80" font-size="11.2" text-anchor="middle" fill="#2e2e2e" stroke="#2e2e2e" stroke-width="0.42" >3</text>
<text x="168.25" y="103.20" font-size="11.2" text-anchor="middle" fill="#2e2e2e" stroke="#2e2e2e" stroke-width="0.42" >20</text>
<text x="168.25" y="125.80" font-size="11.2" text-anchor="middle" fill="#2e2e2e" stroke="#2e2e2e" stroke-width="0.42" >4</text>
<text x="191.90" y="103.20" font-size="11.2" text-anchor="middle" fill="#2e2e2e" stroke="#2e2e2e" stroke-width="0.42" >20</text>
<text x="191.90" y="125.80" font-size="11.2" text-anchor="middle" fill="#2e2e2e" stroke="#2e2e2e" stroke-width="0.42" >5</text>
<text x="216.00" y="103.20" font-size="11.2" text-anchor="middle" fill="#2e2e2e" stroke="#2e2e2e" stroke-width="0.42" >20</text>
<text x="216.00" y="125.80" font-size="11.2" text-anchor="middle" fill="#2e2e2e" stroke="#2e2e2e" stroke-width="0.42" >6</text>
<text x="239.95" y="103.20" font-size="11.2" text-anchor="middle" fill="#2e2e2e" stroke="#2e2e2e" stroke-width="0.42" >20</text>
<text x="239.95" y="125.80" font-size="11.2" text-anchor="middle" fill="#2e2e2e" stroke="#2e2e2e" stroke-width="0.42" >7</text>
<text x="264.10" y="103.20" font-size="11.2" text-anchor="middle" fill="#2e2e2e" stroke="#2e2e2e" stroke-width="0.42" >20</text>
<text x="264.10" y="125.80" font-size="11.2" text-anchor="middle" fill="#2e2e2e" stroke="#2e2e2e" stroke-width="0.42" >8</text>
<text x="288.95" y="103.20" font-size="11.2" text-anchor="middle" fill="#2e2e2e" stroke="#2e2e2e" stroke-width="0.42" >20</text>
<text x="288.95" y="125.80" font-size="11.2" text-anchor="middle" fill="#2e2e2e" stroke="#2e2e2e" stroke-width="0.42" >9</text>
<line x1="88.00" y1="171.50" x2="301.90" y2="171.50" stroke="#151515" stroke-width="1.9" />
<line x1="88.00" y1="210.00" x2="301.90" y2="210.00" stroke="#151515" stroke-width="1.9" />
<line x1="88.00" y1="228.40" x2="301.90" y2="228.40" stroke="#151515" stroke-width="1.9" />
<line x1="88.00" y1="243.80" x2="301.90" y2="243.80" stroke="#151515" stroke-width="1.9" />
<line x1="88.00" y1="265.30" x2="301.90" y2="265.30" stroke="#151515" stroke-width="1.9" />
<line x1="88.00" y1="284.50" x2="301.90" y2="284.50" stroke="#151515" stroke-width="1.9" />
<line x1="88.00" y1="308.40" x2="301.90" y2="308.40" stroke="#151515" stroke-width="1.9" />
<path d="M305.0,136.8 L307.8,136.8 L307.8,164.1 L305.0,164.1" fill="none" stroke="#151515" stroke-width="1.6"/>
<text x="312.60" y="147.30" font-size="11.2" text-anchor="start" fill="#2e2e2e" stroke="#2e2e2e" stroke-width="0.42" >polyubiquitin-</text>
<text x="312.60" y="159.60" font-size="11.2" text-anchor="start" fill="#2e2e2e" stroke="#2e2e2e" stroke-width="0.42" >ated IP<tspan font-size="7" dy="2.5">3</tspan><tspan dy="-2.5">R1</tspan></text>
<text x="321.60" y="194.60" font-size="11.2" text-anchor="start" fill="#2e2e2e" stroke="#2e2e2e" stroke-width="0.42" >unmodified</text>
<text x="321.60" y="208.00" font-size="11.2" text-anchor="start" fill="#2e2e2e" stroke="#2e2e2e" stroke-width="0.42" >IP<tspan font-size="7" dy="2.5">3</tspan><tspan dy="-2.5">R1</tspan></text>
<line x1="310.80" y1="198.60" x2="320.50" y2="198.60" stroke="#111" stroke-width="1.7" />
<path d="M305.80,198.60 L311.80,195.70 L311.80,201.50 Z" fill="#111"/>
<line x1="310.80" y1="218.40" x2="320.50" y2="218.40" stroke="#111" stroke-width="1.7" />
<path d="M305.80,218.40 L311.80,215.50 L311.80,221.30 Z" fill="#111"/>
<text x="322.00" y="222.30" font-size="11.2" text-anchor="start" fill="#2e2e2e" stroke="#2e2e2e" stroke-width="0.42" >SPFH1</text>
<line x1="310.80" y1="235.80" x2="320.50" y2="235.80" stroke="#111" stroke-width="1.7" />
<path d="M305.80,235.80 L311.80,232.90 L311.80,238.70 Z" fill="#111"/>
<text x="322.00" y="239.40" font-size="11.2" text-anchor="start" fill="#2e2e2e" stroke="#2e2e2e" stroke-width="0.42" >SPFH2</text>
<line x1="310.80" y1="253.90" x2="320.50" y2="253.90" stroke="#111" stroke-width="1.7" />
<path d="M305.80,253.90 L311.80,251.00 L311.80,256.80 Z" fill="#111"/>
<text x="322.00" y="257.80" font-size="11.2" text-anchor="start" fill="#2e2e2e" stroke="#2e2e2e" stroke-width="0.42" >SPFH1</text>
<line x1="310.80" y1="275.50" x2="320.50" y2="275.50" stroke="#111" stroke-width="1.7" />
<path d="M305.80,275.50 L311.80,272.60 L311.80,278.40 Z" fill="#111"/>
<text x="322.00" y="279.30" font-size="11.2" text-anchor="start" fill="#2e2e2e" stroke="#2e2e2e" stroke-width="0.42" >SPFH2</text>
<line x1="310.80" y1="295.00" x2="320.50" y2="295.00" stroke="#111" stroke-width="1.7" />
<path d="M305.80,295.00 L311.80,292.10 L311.80,297.90 Z" fill="#111"/>
<text x="322.00" y="298.80" font-size="11.2" text-anchor="start" fill="#2e2e2e" stroke="#2e2e2e" stroke-width="0.42" >β-actin</text>
<path d="M84,135.6 Q75.5,136 75.5,146 L75.5,231 Q75.5,240.5 84,241" fill="none" stroke="#9a9a9a" stroke-width="1.3"/>
<path d="M84,245 Q75.8,245.5 75.8,254 L75.8,296 Q75.8,304.5 84,305" fill="none" stroke="#9a9a9a" stroke-width="1.3"/>
<text x="45.00" y="178.50" font-size="11.2" text-anchor="middle" fill="#2e2e2e" stroke="#2e2e2e" stroke-width="0.42" >anti-IP<tspan font-size="7" dy="2.5">3</tspan><tspan dy="-2.5">R1</tspan></text>
<text x="45.00" y="192.00" font-size="11.2" text-anchor="middle" fill="#2e2e2e" stroke="#2e2e2e" stroke-width="0.42" >immuno-</text>
<text x="45.00" y="204.70" font-size="11.2" text-anchor="middle" fill="#2e2e2e" stroke="#2e2e2e" stroke-width="0.42" >precipitates</text>
<text x="74.40" y="278.00" font-size="11.2" text-anchor="end" fill="#2e2e2e" stroke="#2e2e2e" stroke-width="0.42" >lysates</text>
<line x1="93.60" y1="350.80" x2="93.60" y2="446.20" stroke="#222" stroke-width="2.0" />
<line x1="92.60" y1="445.20" x2="296.50" y2="445.20" stroke="#222" stroke-width="2.0" />
<line x1="87.20" y1="355.40" x2="93.60" y2="355.40" stroke="#333" stroke-width="1.6" />
<text x="85.60" y="360.40" font-size="14" text-anchor="end" fill="#333" stroke="#333" stroke-width="0.42" >100</text>
<line x1="87.20" y1="400.30" x2="93.60" y2="400.30" stroke="#333" stroke-width="1.6" />
<text x="85.60" y="405.30" font-size="14" text-anchor="end" fill="#333" stroke="#333" stroke-width="0.42" >50</text>
<line x1="87.20" y1="445.20" x2="93.60" y2="445.20" stroke="#333" stroke-width="1.6" />
<text x="85.60" y="450.20" font-size="14" text-anchor="end" fill="#333" stroke="#333" stroke-width="0.42" >0</text>
<line x1="104.90" y1="426.70" x2="104.90" y2="429.93" stroke="#333" stroke-width="1.6" />
<line x1="100.50" y1="426.70" x2="109.30" y2="426.70" stroke="#333" stroke-width="1.6" />
<rect x="97.10" y="430.73" width="15.60" height="14.47" fill="#fff" stroke="#333" stroke-width="1.6" />
<rect x="119.52" y="356.20" width="15.60" height="89.00" fill="#fff" stroke="#333" stroke-width="1.6" />
<line x1="149.74" y1="369.77" x2="149.74" y2="373.36" stroke="#333" stroke-width="1.6" />
<line x1="145.34" y1="369.77" x2="154.14" y2="369.77" stroke="#333" stroke-width="1.6" />
<rect x="141.94" y="374.16" width="15.60" height="71.04" fill="#fff" stroke="#333" stroke-width="1.6" />
<line x1="172.16" y1="394.91" x2="172.16" y2="396.71" stroke="#333" stroke-width="1.6" />
<line x1="167.76" y1="394.91" x2="176.56" y2="394.91" stroke="#333" stroke-width="1.6" />
<rect x="164.36" y="397.51" width="15.60" height="47.69" fill="#fff" stroke="#333" stroke-width="1.6" />
<line x1="194.58" y1="401.65" x2="194.58" y2="409.28" stroke="#333" stroke-width="1.6" />
<line x1="190.18" y1="401.65" x2="198.98" y2="401.65" stroke="#333" stroke-width="1.6" />
<rect x="186.78" y="410.08" width="15.60" height="35.12" fill="#fff" stroke="#333" stroke-width="1.6" />
<rect x="209.20" y="356.20" width="15.60" height="89.00" fill="#fff" stroke="#333" stroke-width="1.6" />
<line x1="239.42" y1="364.38" x2="239.42" y2="367.07" stroke="#333" stroke-width="1.6" />
<line x1="235.02" y1="364.38" x2="243.82" y2="364.38" stroke="#333" stroke-width="1.6" />
<rect x="231.62" y="367.87" width="15.60" height="77.33" fill="#fff" stroke="#333" stroke-width="1.6" />
<line x1="261.84" y1="414.67" x2="261.84" y2="420.95" stroke="#333" stroke-width="1.6" />
<line x1="257.44" y1="414.67" x2="266.24" y2="414.67" stroke="#333" stroke-width="1.6" />
<rect x="254.04" y="421.75" width="15.60" height="23.45" fill="#fff" stroke="#333" stroke-width="1.6" />
<line x1="284.26" y1="381.44" x2="284.26" y2="387.73" stroke="#333" stroke-width="1.6" />
<line x1="279.86" y1="381.44" x2="288.66" y2="381.44" stroke="#333" stroke-width="1.6" />
<rect x="276.46" y="388.53" width="15.60" height="56.67" fill="#fff" stroke="#333" stroke-width="1.6" />
<text transform="translate(16.70,398.20) rotate(-90)" font-size="14.4" text-anchor="middle" fill="#333" stroke="#333" stroke-width="0.42" >ubiquitin immunoreact-</text>
<text transform="translate(33.30,397.40) rotate(-90)" font-size="14.1" text-anchor="middle" fill="#333" stroke="#333" stroke-width="0.42" >ivity (% of Random</text>
<text transform="translate(52.60,396.20) rotate(-90)" font-size="14.1" text-anchor="middle" fill="#333" stroke="#333" stroke-width="0.42" >cell maximum; n≥4)</text>
<text transform="translate(377.4,35.5) scale(1.08,1.02)" font-size="41.6" fill="#111" stroke="#111" stroke-width="0.7">B</text>
<line x1="449.80" y1="17.20" x2="746.90" y2="17.20" stroke="#555" stroke-width="1.4" />
<line x1="449.80" y1="38.20" x2="746.90" y2="38.20" stroke="#555" stroke-width="1.4" />
<line x1="449.80" y1="60.40" x2="746.90" y2="60.40" stroke="#555" stroke-width="1.4" />
<line x1="449.80" y1="82.90" x2="746.90" y2="82.90" stroke="#555" stroke-width="1.4" />
<line x1="449.80" y1="17.20" x2="449.80" y2="173.60" stroke="#555" stroke-width="1.4" />
<line x1="746.90" y1="17.20" x2="746.90" y2="173.60" stroke="#555" stroke-width="1.4" />
<line x1="513.20" y1="17.20" x2="513.20" y2="82.90" stroke="#555" stroke-width="1.4" />
<line x1="576.40" y1="17.20" x2="576.40" y2="82.90" stroke="#555" stroke-width="1.4" />
<line x1="640.50" y1="17.20" x2="640.50" y2="82.90" stroke="#555" stroke-width="1.4" />
<line x1="705.10" y1="17.20" x2="705.10" y2="82.90" stroke="#555" stroke-width="1.4" />
<line x1="470.80" y1="38.20" x2="470.80" y2="82.90" stroke="#555" stroke-width="1.4" />
<line x1="492.10" y1="38.20" x2="492.10" y2="82.90" stroke="#555" stroke-width="1.4" />
<line x1="534.50" y1="38.20" x2="534.50" y2="82.90" stroke="#555" stroke-width="1.4" />
<line x1="555.40" y1="38.20" x2="555.40" y2="82.90" stroke="#555" stroke-width="1.4" />
<line x1="597.20" y1="38.20" x2="597.20" y2="82.90" stroke="#555" stroke-width="1.4" />
<line x1="619.20" y1="38.20" x2="619.20" y2="82.90" stroke="#555" stroke-width="1.4" />
<line x1="662.40" y1="38.20" x2="662.40" y2="82.90" stroke="#555" stroke-width="1.4" />
<line x1="683.70" y1="38.20" x2="683.70" y2="82.90" stroke="#555" stroke-width="1.4" />
<line x1="726.40" y1="38.20" x2="726.40" y2="82.90" stroke="#555" stroke-width="1.4" />
<text x="446.20" y="31.80" font-size="10.7" text-anchor="end" fill="#333" stroke="#333" stroke-width="0.42" >siRNA</text>
<text x="447.80" y="52.30" font-size="10.7" text-anchor="end" fill="#333" stroke="#333" stroke-width="0.42" >carbachol (h)</text>
<text x="443.40" y="75.30" font-size="10.7" text-anchor="end" fill="#333" stroke="#333" stroke-width="0.42" >lane</text>
<text x="481.70" y="31.90" font-size="10.7" text-anchor="middle" fill="#333" stroke="#333" stroke-width="0.42" >Random</text>
<text x="545.30" y="31.90" font-size="10.7" text-anchor="middle" fill="#333" stroke="#333" stroke-width="0.42" >SPFH1</text>
<text x="604.50" y="31.90" font-size="10.7" text-anchor="middle" fill="#333" stroke="#333" stroke-width="0.42" >SPFH2</text>
<text x="668.40" y="25.80" font-size="10.7" text-anchor="middle" fill="#333" stroke="#333" stroke-width="0.42" >SPFH1 +</text>
<text x="665.60" y="36.40" font-size="10.7" text-anchor="middle" fill="#333" stroke="#333" stroke-width="0.42" >SPFH2</text>
<text x="726.90" y="31.90" font-size="10.5" text-anchor="middle" fill="#333" stroke="#333" stroke-width="0.42" >Random</text>
<text x="460.30" y="53.00" font-size="10.7" text-anchor="middle" fill="#333" stroke="#333" stroke-width="0.42" >0</text>
<text x="460.30" y="75.50" font-size="10.7" text-anchor="middle" fill="#333" stroke="#333" stroke-width="0.42" >1</text>
<text x="481.45" y="53.00" font-size="10.7" text-anchor="middle" fill="#333" stroke="#333" stroke-width="0.42" >1.5</text>
<text x="481.45" y="75.50" font-size="10.7" text-anchor="middle" fill="#333" stroke="#333" stroke-width="0.42" >2</text>
<text x="502.65" y="53.00" font-size="10.7" text-anchor="middle" fill="#333" stroke="#333" stroke-width="0.42" >3</text>
<text x="502.65" y="75.50" font-size="10.7" text-anchor="middle" fill="#333" stroke="#333" stroke-width="0.42" >3</text>
<text x="523.85" y="53.00" font-size="10.7" text-anchor="middle" fill="#333" stroke="#333" stroke-width="0.42" >0</text>
<text x="523.85" y="75.50" font-size="10.7" text-anchor="middle" fill="#333" stroke="#333" stroke-width="0.42" >4</text>
<text x="544.95" y="53.00" font-size="10.7" text-anchor="middle" fill="#333" stroke="#333" stroke-width="0.42" >1.5</text>
<text x="544.95" y="75.50" font-size="10.7" text-anchor="middle" fill="#333" stroke="#333" stroke-width="0.42" >5</text>
<text x="565.90" y="53.00" font-size="10.7" text-anchor="middle" fill="#333" stroke="#333" stroke-width="0.42" >3</text>
<text x="565.90" y="75.50" font-size="10.7" text-anchor="middle" fill="#333" stroke="#333" stroke-width="0.42" >6</text>
<text x="586.80" y="53.00" font-size="10.7" text-anchor="middle" fill="#333" stroke="#333" stroke-width="0.42" >0</text>
<text x="586.80" y="75.50" font-size="10.7" text-anchor="middle" fill="#333" stroke="#333" stroke-width="0.42" >7</text>
<text x="608.20" y="53.00" font-size="10.7" text-anchor="middle" fill="#333" stroke="#333" stroke-width="0.42" >1.5</text>
<text x="608.20" y="75.50" font-size="10.7" text-anchor="middle" fill="#333" stroke="#333" stroke-width="0.42" >8</text>
<text x="629.85" y="53.00" font-size="10.7" text-anchor="middle" fill="#333" stroke="#333" stroke-width="0.42" >3</text>
<text x="629.85" y="75.50" font-size="10.7" text-anchor="middle" fill="#333" stroke="#333" stroke-width="0.42" >9</text>
<text x="651.45" y="53.00" font-size="10.7" text-anchor="middle" fill="#333" stroke="#333" stroke-width="0.42" >0</text>
<text x="651.45" y="75.50" font-size="10.7" text-anchor="middle" fill="#333" stroke="#333" stroke-width="0.42" >10</text>
<text x="673.05" y="53.00" font-size="10.7" text-anchor="middle" fill="#333" stroke="#333" stroke-width="0.42" >1.5</text>
<text x="673.05" y="75.50" font-size="10.7" text-anchor="middle" fill="#333" stroke="#333" stroke-width="0.42" >11</text>
<text x="694.40" y="53.00" font-size="10.7" text-anchor="middle" fill="#333" stroke="#333" stroke-width="0.42" >3</text>
<text x="694.40" y="75.50" font-size="10.7" text-anchor="middle" fill="#333" stroke="#333" stroke-width="0.42" >12</text>
<text x="715.75" y="53.00" font-size="10.7" text-anchor="middle" fill="#333" stroke="#333" stroke-width="0.42" >0</text>
<text x="715.75" y="75.50" font-size="10.7" text-anchor="middle" fill="#333" stroke="#333" stroke-width="0.42" >13</text>
<text x="736.65" y="53.00" font-size="10.7" text-anchor="middle" fill="#333" stroke="#333" stroke-width="0.42" >3</text>
<text x="736.65" y="75.50" font-size="10.7" text-anchor="middle" fill="#333" stroke="#333" stroke-width="0.42" >14</text>
<line x1="449.80" y1="106.90" x2="746.90" y2="106.90" stroke="#555" stroke-width="1.4" />
<line x1="449.80" y1="126.90" x2="746.90" y2="126.90" stroke="#555" stroke-width="1.4" />
<line x1="449.80" y1="150.30" x2="746.90" y2="150.30" stroke="#555" stroke-width="1.4" />
<line x1="449.80" y1="173.60" x2="746.90" y2="173.60" stroke="#555" stroke-width="1.4" />
<line x1="753.00" y1="92.90" x2="760.80" y2="92.90" stroke="#222" stroke-width="1.3" />
<path d="M748.8,92.90 L754.8,90.00 L754.8,95.80 Z" fill="#111"/>
<text x="762.00" y="97.90" font-size="10.8" text-anchor="start" fill="#333" stroke="#333" stroke-width="0.42" >IP<tspan font-size="6.8" dy="2.5">3</tspan><tspan dy="-2.5">R1</tspan></text>
<line x1="753.00" y1="118.50" x2="760.80" y2="118.50" stroke="#222" stroke-width="1.3" />
<path d="M748.8,118.50 L754.8,115.60 L754.8,121.40 Z" fill="#111"/>
<text x="762.00" y="121.50" font-size="10.8" text-anchor="start" fill="#333" stroke="#333" stroke-width="0.42" >SPFH1</text>
<line x1="753.00" y1="138.75" x2="760.80" y2="138.75" stroke="#222" stroke-width="1.3" />
<path d="M748.8,138.75 L754.8,135.85 L754.8,141.65 Z" fill="#111"/>
<text x="762.00" y="143.60" font-size="10.8" text-anchor="start" fill="#333" stroke="#333" stroke-width="0.42" >SPFH2</text>
<line x1="753.00" y1="158.80" x2="760.80" y2="158.80" stroke="#222" stroke-width="1.3" />
<path d="M748.8,158.80 L754.8,155.90 L754.8,161.70 Z" fill="#111"/>
<text x="762.00" y="163.30" font-size="10.8" text-anchor="start" fill="#333" stroke="#333" stroke-width="0.42" >β-actin</text>
<line x1="452.50" y1="181.00" x2="452.50" y2="331.60" stroke="#555" stroke-width="1.6" />
<line x1="451.90" y1="331.00" x2="706.00" y2="331.00" stroke="#555" stroke-width="1.6" />
<line x1="447.50" y1="331.00" x2="452.50" y2="331.00" stroke="#555" stroke-width="1.2" />
<text x="446.00" y="334.70" font-size="10.5" text-anchor="end" fill="#444" stroke="#444" stroke-width="0.42" >0</text>
<line x1="447.50" y1="290.33" x2="452.50" y2="290.33" stroke="#555" stroke-width="1.2" />
<text x="446.00" y="294.03" font-size="10.5" text-anchor="end" fill="#444" stroke="#444" stroke-width="0.42" >50</text>
<line x1="447.50" y1="249.67" x2="452.50" y2="249.67" stroke="#555" stroke-width="1.2" />
<text x="446.00" y="253.37" font-size="10.5" text-anchor="end" fill="#444" stroke="#444" stroke-width="0.42" >100</text>
<line x1="447.50" y1="209.00" x2="452.50" y2="209.00" stroke="#555" stroke-width="1.2" />
<text x="446.00" y="212.70" font-size="10.5" text-anchor="end" fill="#444" stroke="#444" stroke-width="0.42" >150</text>
<rect x="454.80" y="250.27" width="15.40" height="80.73" fill="#fff" stroke="#555" stroke-width="1.2" />
<line x1="483.70" y1="265.12" x2="483.70" y2="268.38" stroke="#555" stroke-width="1.2" />
<line x1="479.70" y1="265.12" x2="487.70" y2="265.12" stroke="#555" stroke-width="1.2" />
<rect x="476.00" y="268.98" width="15.40" height="62.02" fill="#fff" stroke="#555" stroke-width="1.2" />
<line x1="504.90" y1="276.51" x2="504.90" y2="279.76" stroke="#555" stroke-width="1.2" />
<line x1="500.90" y1="276.51" x2="508.90" y2="276.51" stroke="#555" stroke-width="1.2" />
<rect x="497.20" y="280.36" width="15.40" height="50.64" fill="#fff" stroke="#555" stroke-width="1.2" />
<line x1="526.10" y1="220.39" x2="526.10" y2="226.90" stroke="#555" stroke-width="1.2" />
<line x1="522.10" y1="220.39" x2="530.10" y2="220.39" stroke="#555" stroke-width="1.2" />
<rect x="518.40" y="227.50" width="15.40" height="103.50" fill="#fff" stroke="#555" stroke-width="1.2" />
<line x1="547.30" y1="236.66" x2="547.30" y2="238.28" stroke="#555" stroke-width="1.2" />
<line x1="543.30" y1="236.66" x2="551.30" y2="236.66" stroke="#555" stroke-width="1.2" />
<rect x="539.60" y="238.88" width="15.40" height="92.12" fill="#fff" stroke="#555" stroke-width="1.2" />
<line x1="568.50" y1="247.23" x2="568.50" y2="251.30" stroke="#555" stroke-width="1.2" />
<line x1="564.50" y1="247.23" x2="572.50" y2="247.23" stroke="#555" stroke-width="1.2" />
<rect x="560.80" y="251.90" width="15.40" height="79.10" fill="#fff" stroke="#555" stroke-width="1.2" />
<line x1="589.70" y1="192.74" x2="589.70" y2="209.00" stroke="#555" stroke-width="1.2" />
<line x1="585.70" y1="192.74" x2="593.70" y2="192.74" stroke="#555" stroke-width="1.2" />
<rect x="582.00" y="209.60" width="15.40" height="121.40" fill="#fff" stroke="#555" stroke-width="1.2" />
<line x1="610.90" y1="192.74" x2="610.90" y2="209.00" stroke="#555" stroke-width="1.2" />
<line x1="606.90" y1="192.74" x2="614.90" y2="192.74" stroke="#555" stroke-width="1.2" />
<rect x="603.20" y="209.60" width="15.40" height="121.40" fill="#fff" stroke="#555" stroke-width="1.2" />
<line x1="632.10" y1="205.75" x2="632.10" y2="220.39" stroke="#555" stroke-width="1.2" />
<line x1="628.10" y1="205.75" x2="636.10" y2="205.75" stroke="#555" stroke-width="1.2" />
<rect x="624.40" y="220.99" width="15.40" height="110.01" fill="#fff" stroke="#555" stroke-width="1.2" />
<line x1="653.30" y1="186.23" x2="653.30" y2="197.62" stroke="#555" stroke-width="1.2" />
<line x1="649.30" y1="186.23" x2="657.30" y2="186.23" stroke="#555" stroke-width="1.2" />
<rect x="645.60" y="198.22" width="15.40" height="132.78" fill="#fff" stroke="#555" stroke-width="1.2" />
<line x1="674.50" y1="182.98" x2="674.50" y2="198.43" stroke="#555" stroke-width="1.2" />
<line x1="670.50" y1="182.98" x2="678.50" y2="182.98" stroke="#555" stroke-width="1.2" />
<rect x="666.80" y="199.03" width="15.40" height="131.97" fill="#fff" stroke="#555" stroke-width="1.2" />
<line x1="695.70" y1="204.94" x2="695.70" y2="216.32" stroke="#555" stroke-width="1.2" />
<line x1="691.70" y1="204.94" x2="699.70" y2="204.94" stroke="#555" stroke-width="1.2" />
<rect x="688.00" y="216.92" width="15.40" height="114.08" fill="#fff" stroke="#555" stroke-width="1.2" />
<text transform="translate(403.80,254.30) rotate(-90)" font-size="10.75" text-anchor="middle" fill="#555" stroke="#555" stroke-width="0.15" >IP<tspan font-size="6.6" dy="2.3">3</tspan><tspan dy="-2.3">R1 immunoreactivity (% of</tspan></text>
<text transform="translate(419.40,254.60) rotate(-90)" font-size="10.85" text-anchor="middle" fill="#555" stroke="#555" stroke-width="0.15" >Random cell t=0 values; n≥4)</text>
<line x1="513.70" y1="346.50" x2="513.70" y2="466.60" stroke="#777" stroke-width="1.2" />
<line x1="513.70" y1="466.60" x2="668.00" y2="466.60" stroke="#777" stroke-width="1.2" />
<line x1="511.20" y1="346.90" x2="513.70" y2="346.90" stroke="#777" stroke-width="1.0" />
<text x="510.10" y="350.10" font-size="8.7" text-anchor="end" fill="#3a3a3a" font-weight="bold" stroke="#3a3a3a" stroke-width="0.25" >110</text>
<line x1="511.20" y1="361.90" x2="513.70" y2="361.90" stroke="#777" stroke-width="1.0" />
<text x="510.10" y="365.10" font-size="8.7" text-anchor="end" fill="#3a3a3a" font-weight="bold" stroke="#3a3a3a" stroke-width="0.25" >100</text>
<line x1="511.20" y1="374.70" x2="513.70" y2="374.70" stroke="#777" stroke-width="1.0" />
<text x="510.10" y="377.90" font-size="8.7" text-anchor="end" fill="#3a3a3a" font-weight="bold" stroke="#3a3a3a" stroke-width="0.25" >90</text>
<line x1="511.20" y1="387.30" x2="513.70" y2="387.30" stroke="#777" stroke-width="1.0" />
<text x="510.10" y="390.50" font-size="8.7" text-anchor="end" fill="#3a3a3a" font-weight="bold" stroke="#3a3a3a" stroke-width="0.25" >80</text>
<line x1="511.20" y1="404.50" x2="513.70" y2="404.50" stroke="#777" stroke-width="1.0" />
<text x="510.10" y="407.70" font-size="8.7" text-anchor="end" fill="#3a3a3a" font-weight="bold" stroke="#3a3a3a" stroke-width="0.25" >70</text>
<line x1="511.20" y1="427.40" x2="513.70" y2="427.40" stroke="#777" stroke-width="1.0" />
<text x="510.10" y="430.60" font-size="8.7" text-anchor="end" fill="#3a3a3a" font-weight="bold" stroke="#3a3a3a" stroke-width="0.25" >60</text>
<line x1="511.20" y1="466.40" x2="513.70" y2="466.40" stroke="#777" stroke-width="1.0" />
<text x="510.10" y="469.60" font-size="8.7" text-anchor="end" fill="#3a3a3a" font-weight="bold" stroke="#3a3a3a" stroke-width="0.25" >50</text>
<line x1="513.70" y1="466.60" x2="513.70" y2="469.00" stroke="#777" stroke-width="1.0" />
<text x="513.70" y="483.10" font-size="10" text-anchor="middle" fill="#555" stroke="#555" stroke-width="0.25" >0</text>
<line x1="590.60" y1="466.60" x2="590.60" y2="469.00" stroke="#777" stroke-width="1.0" />
<text x="590.60" y="483.10" font-size="10" text-anchor="middle" fill="#555" stroke="#555" stroke-width="0.25" >1.5</text>
<line x1="667.20" y1="466.60" x2="667.20" y2="469.00" stroke="#777" stroke-width="1.0" />
<text x="667.20" y="483.10" font-size="10" text-anchor="middle" fill="#555" stroke="#555" stroke-width="0.25" >3</text>
<text x="589.50" y="496.00" font-size="10.8" text-anchor="middle" fill="#222" font-weight="bold" stroke="#222" stroke-width="0.42" >time with carbachol (h)</text>
<text transform="translate(480.40,404.80) rotate(-90)" font-size="10.8" text-anchor="middle" fill="#333" font-weight="bold" stroke="#333" stroke-width="0.42" >IP<tspan font-size="6.8" dy="2.3">3</tspan><tspan dy="-2.3">R1 immunoreactivity</tspan></text>
<text transform="translate(492.30,405.40) rotate(-90)" font-size="10.8" text-anchor="middle" fill="#333" font-weight="bold" stroke="#333" stroke-width="0.42" >(% of t=0 values)</text>
<line x1="514" y1="361.5" x2="667.4" y2="432.7" stroke="#111" stroke-width="1.8"/>
<line x1="514" y1="361.5" x2="665" y2="376.8" stroke="#222" stroke-width="1.8" stroke-dasharray="5.5,4"/>
<line x1="590.60" y1="393.50" x2="590.60" y2="407.80" stroke="#333" stroke-width="1.0" />
<line x1="588.60" y1="393.50" x2="592.60" y2="393.50" stroke="#333" stroke-width="1.0" />
<line x1="588.60" y1="407.80" x2="592.60" y2="407.80" stroke="#333" stroke-width="1.0" />
<line x1="667.40" y1="421.40" x2="667.40" y2="444.80" stroke="#333" stroke-width="1.0" />
<line x1="665.40" y1="421.40" x2="669.40" y2="421.40" stroke="#333" stroke-width="1.0" />
<line x1="665.40" y1="444.80" x2="669.40" y2="444.80" stroke="#333" stroke-width="1.0" />
<line x1="590.60" y1="352.00" x2="590.60" y2="362.40" stroke="#333" stroke-width="1.0" />
<line x1="588.60" y1="352.00" x2="592.60" y2="352.00" stroke="#333" stroke-width="1.0" />
<line x1="588.60" y1="362.40" x2="592.60" y2="362.40" stroke="#333" stroke-width="1.0" />
<line x1="667.40" y1="372.00" x2="667.40" y2="395.10" stroke="#333" stroke-width="1.0" />
<line x1="665.40" y1="372.00" x2="669.40" y2="372.00" stroke="#333" stroke-width="1.0" />
<line x1="665.40" y1="395.10" x2="669.40" y2="395.10" stroke="#333" stroke-width="1.0" />
<rect x="510.30" y="357.60" width="7.60" height="7.60" fill="#fff" stroke="#555" stroke-width="1.4" />
<rect x="586.80" y="352.20" width="7.60" height="7.80" fill="#fff" stroke="#555" stroke-width="1.4" />
<rect x="663.60" y="379.20" width="7.60" height="7.80" fill="#fff" stroke="#555" stroke-width="1.4" />
<rect x="586.90" y="396.30" width="7.50" height="7.50" fill="#111" stroke="none" stroke-width="1" />
<rect x="663.70" y="429.00" width="7.50" height="7.50" fill="#111" stroke="none" stroke-width="1" />
<polygon points="590.60,343.70 591.39,345.91 593.74,345.98 591.88,347.42 592.54,349.67 590.60,348.35 588.66,349.67 589.32,347.42 587.46,345.98 589.81,345.91" fill="#111"/>
<polygon points="668.10,361.70 668.89,363.91 671.24,363.98 669.38,365.42 670.04,367.67 668.10,366.35 666.16,367.67 666.82,365.42 664.96,363.98 667.31,363.91" fill="#111"/>
<rect x="518.20" y="437.60" width="6.20" height="5.40" fill="#111" stroke="none" stroke-width="1" />
<text x="525.80" y="443.80" font-size="10.3" text-anchor="start" fill="#222" stroke="#222" stroke-width="0.42" >Random</text>
<rect x="518.60" y="453.20" width="5.20" height="4.80" fill="#fff" stroke="#555" stroke-width="1.0" />
<text x="525.80" y="458.50" font-size="10.3" text-anchor="start" fill="#222" stroke="#222" stroke-width="0.42" >SPFH1+SPFH2</text>
</g>
</svg>
</body></html>
